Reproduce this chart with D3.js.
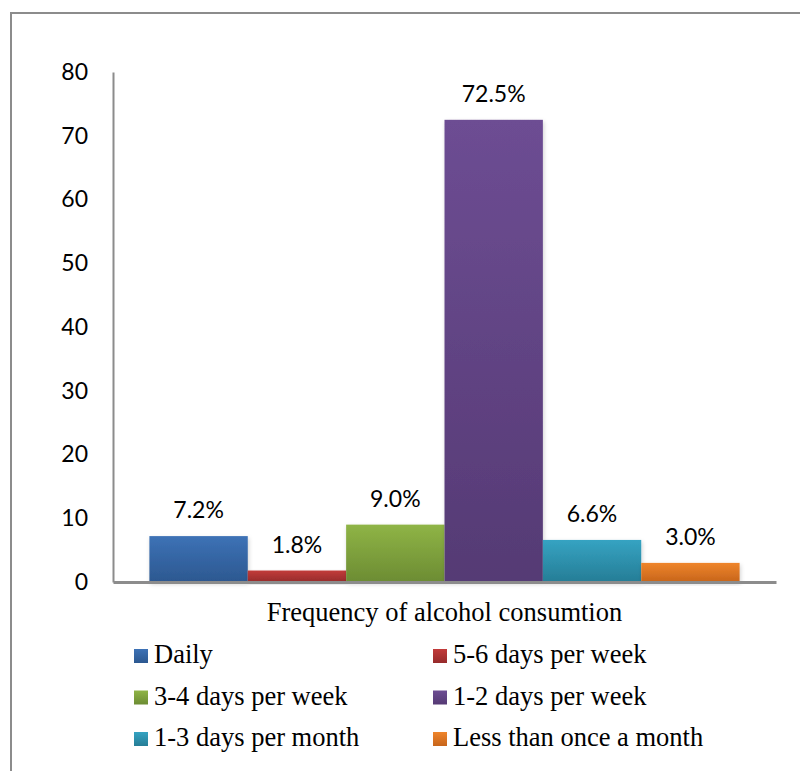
<!DOCTYPE html>
<html>
<head>
<meta charset="utf-8">
<script src="https://cdn.jsdelivr.net/npm/d3@7"></script>
<style>
  body { margin: 0; background: #fff; }
  svg { display: block; }
  .serif { font-family: "Liberation Serif", "Times New Roman", serif; }
</style>
</head>
<body>
<script>
// data
const categories = ["Daily", "5-6 days per week", "3-4 days per week", "1-2 days per week", "1-3 days per month", "Less than once a month"];
const values = [7.2, 1.8, 9.0, 72.5, 6.6, 3.0];
const valueLabels = ["7.2%", "1.8%", "9.0%", "72.5%", "6.6%", "3.0%"];
const yTicks = [0, 10, 20, 30, 40, 50, 60, 70, 80];
const axisTitle = "Frequency of alcohol consumtion";

const colorsTop = ["#3d72b6", "#c23b3a", "#8fb446", "#6d4d93", "#35a3c2", "#ef852b"];
const colorsBottom = ["#2c5890", "#962b2b", "#6c8c33", "#553a74", "#267d96", "#c7651b"];

const W = 800, H = 771;
const padLeft = 113, padRight = 776, padTop = 72, padBottom = 582;

const svg = d3.select("body").append("svg")
    .attr("width", W)
    .attr("height", H);

// frame
svg.append("path")
    .attr("d", `M11,${H} L11,13 L${W},13`)
    .attr("fill", "none")
    .attr("stroke", "#8c8c8c")
    .attr("stroke-width", 2);

const defs = svg.append("defs");
categories.forEach((c, i) => {
    const g = defs.append("linearGradient")
        .attr("id", "grad" + i)
        .attr("x1", 0).attr("y1", 0).attr("x2", 0).attr("y2", 1);
    g.append("stop").attr("offset", "0%").attr("stop-color", colorsTop[i]);
    g.append("stop").attr("offset", "100%").attr("stop-color", colorsBottom[i]);
});
const shadow = defs.append("filter").attr("id", "shadow")
    .attr("x", "-10%").attr("y", "-10%").attr("width", "130%").attr("height", "130%");
shadow.append("feDropShadow")
    .attr("dx", 1).attr("dy", 2).attr("stdDeviation", 2)
    .attr("flood-color", "#000").attr("flood-opacity", 0.18);

const x = d3.scaleBand(categories, [padLeft, padRight]).paddingInner(0).paddingOuter(0.37);
const y = d3.scaleLinear([0, 80], [padBottom, padTop]);

// bars
svg.append("g")
    .selectAll("rect")
    .data(values)
    .enter()
    .append("rect")
    .attr("x", (d, i) => x(categories[i]))
    .attr("width", x.bandwidth())
    .attr("y", d => y(d))
    .attr("height", d => y(0) - y(d))
    .attr("fill", (d, i) => `url(#grad${i})`)
    .attr("filter", "url(#shadow)");

// value labels
svg.append("g")
    .selectAll("text")
    .data(values)
    .enter()
    .append("text")
    .attr("x", (d, i) => x(categories[i]) + x.bandwidth() / 2)
    .attr("y", d => y(d) - 18)
    .attr("text-anchor", "middle")
    .attr("font-family", "Lato, sans-serif")
    .attr("font-size", 23)
    .attr("fill", "#000")
    .text((d, i) => valueLabels[i]);

// y axis
const yAxis = svg.append("g")
    .attr("transform", `translate(${padLeft},0)`)
    .call(d3.axisLeft(y).tickValues(yTicks).tickSize(0).tickPadding(25));
yAxis.select(".domain").attr("stroke", "#8c8c8c").attr("stroke-width", 2);
yAxis.selectAll("text")
    .attr("font-family", "Lato, sans-serif")
    .attr("font-size", 23)
    .attr("fill", "#000");

// x axis line
const xAxis = svg.append("g")
    .attr("transform", `translate(0,${padBottom})`)
    .call(d3.axisBottom(d3.scaleLinear([0, 1], [padLeft, padRight])).ticks(0).tickSizeOuter(0));
xAxis.select(".domain").attr("stroke", "#8c8c8c").attr("stroke-width", 3);

// axis title
svg.append("text")
    .attr("class", "serif")
    .attr("x", (padLeft + padRight) / 2)
    .attr("y", 621)
    .attr("text-anchor", "middle")
    .attr("font-size", 26.5)
    .attr("fill", "#000")
    .text(axisTitle);

// legend
const legend = svg.append("g")
    .selectAll("g")
    .data(categories)
    .enter()
    .append("g")
    .attr("transform", (d, i) => `translate(${i % 2 == 0 ? 134 : 433}, ${649 + Math.floor(i / 2) * 41.5})`);

legend.append("rect")
    .attr("width", 14)
    .attr("height", 14)
    .attr("fill", (d, i) => `url(#grad${i})`);

legend.append("text")
    .attr("class", "serif")
    .attr("x", 20)
    .attr("y", 14)
    .attr("font-size", 26.5)
    .attr("fill", "#000")
    .text(d => d);
</script>
</body>
</html>
